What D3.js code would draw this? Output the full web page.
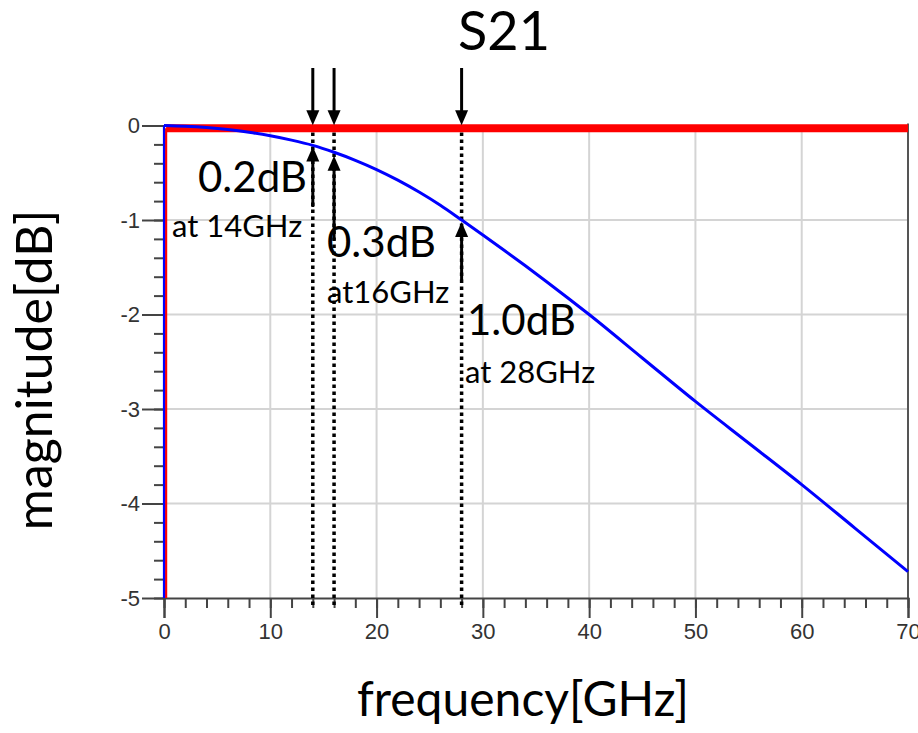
<!DOCTYPE html>
<html>
<head>
<meta charset="utf-8">
<script src="https://cdn.jsdelivr.net/npm/d3@7"></script>
<style>
  html, body { margin: 0; padding: 0; background: #fff; }
  svg { display: block; }
</style>
</head>
<body>
<svg id="chart" width="918" height="733"></svg>
<script>
// S21 insertion loss of the channel, 0–70 GHz
const freqGHz = [0, 2, 4, 6, 8, 10, 12, 14, 16, 18, 20, 22, 24, 26, 28, 30, 32, 34, 36, 38, 40, 45, 50, 55, 60, 65, 70];
const s21dB   = [0, -0.008, -0.022, -0.043, -0.072, -0.109, -0.155, -0.21, -0.283, -0.368, -0.466, -0.578, -0.704, -0.844, -1.0, -1.158, -1.32, -1.485, -1.653, -1.825, -2.0, -2.46, -2.92, -3.36, -3.8, -4.26, -4.72];

// reference trace (flat at 0 dB)
const refFreq = [0.2, 70];
const refdB   = [-0.03, -0.03];

// marked points
const markFreq = [14, 16, 28];
const markLoss = [0.2, 0.3, 1.0];
const markText = ["0.2dB", "0.3dB", "1.0dB"];
const markSub  = ["at 14GHz", "at16GHz", "at 28GHz"];

// axis ticks
const xTicks = [0, 10, 20, 30, 40, 50, 60, 70];
const yTicks = [0, -1, -2, -3, -4, -5];

const svg = d3.select("#chart");
const x = d3.scaleLinear().domain([0, 70]).range([164, 908]);
const y = d3.scaleLinear().domain([-5, 0]).range([598, 125.5]);

const xMinor = d3.range(0, 70.001, 2);
const yMinor = d3.range(-5, 0.001, 0.2).map(v => +v.toFixed(2));

// grid
const grid = svg.append("g");
grid.selectAll(".gx").data(xTicks.filter(t => t > 0 && t < 70)).join("line")
  .attr("x1", d => x(d)).attr("x2", d => x(d))
  .attr("y1", y(0)).attr("y2", y(-5))
  .attr("stroke", "#d4d4d4").attr("stroke-width", 2);
grid.selectAll(".gy").data(yTicks.filter(t => t < 0 && t > -5)).join("line")
  .attr("x1", x(0)).attr("x2", x(70))
  .attr("y1", d => y(d)).attr("y2", d => y(d))
  .attr("stroke", "#d4d4d4").attr("stroke-width", 2);

// right frame edge
svg.append("line")
  .attr("x1", x(70)).attr("x2", x(70)).attr("y1", y(0) - 2).attr("y2", y(-5))
  .attr("stroke", "#555").attr("stroke-width", 2);

const tickFont = "'Liberation Sans', Arial, sans-serif";

// x axis: minor then major ticks
const xMinorAxis = svg.append("g").attr("transform", `translate(0,${y(-5)})`)
  .call(d3.axisBottom(x).tickValues(xMinor).tickSize(10).tickFormat(""));
const xAxis = svg.append("g").attr("transform", `translate(0,${y(-5)})`)
  .call(d3.axisBottom(x).tickValues(xTicks).tickSize(20).tickPadding(5).tickFormat(d3.format("d")));

// y axis: minor then major ticks
const yMinorAxis = svg.append("g").attr("transform", `translate(${x(0)},0)`)
  .call(d3.axisLeft(y).tickValues(yMinor).tickSize(10).tickFormat(""));
const yAxis = svg.append("g").attr("transform", `translate(${x(0)},0)`)
  .call(d3.axisLeft(y).tickValues(yTicks).tickSize(22).tickPadding(2).tickFormat(d => d === 0 ? "0" : "-" + Math.abs(d)));

[xMinorAxis, xAxis, yMinorAxis, yAxis].forEach(g => {
  g.selectAll(".tick line").attr("stroke", "#444").attr("stroke-width", 2);
  g.selectAll(".domain").attr("stroke", "#444").attr("stroke-width", 2);
  g.selectAll("text").attr("fill", "#333").style("font-family", tickFont).style("font-size", "22px");
});
yMinorAxis.select(".domain").remove();
yAxis.select(".domain").remove();
xMinorAxis.select(".domain").remove();

// dotted guides at the marked frequencies
svg.selectAll(".guide").data(markFreq).join("line")
  .attr("x1", d => x(d)).attr("x2", d => x(d))
  .attr("y1", y(0)).attr("y2", y(-5) + 10)
  .attr("stroke", "#000").attr("stroke-width", 3.5)
  .attr("stroke-dasharray", "3.5,3.5");

// reference trace
const refPts = refFreq.map((f, i) => [f, refdB[i]]);
svg.append("line")
  .attr("x1", x(refFreq[0])).attr("x2", x(refFreq[0]))
  .attr("y1", y(-5)).attr("y2", y(refdB[0]))
  .attr("stroke", "#ff0000").attr("stroke-width", 2.2);
svg.append("path")
  .datum(refPts)
  .attr("fill", "none").attr("stroke", "#ff0000").attr("stroke-width", 8)
  .attr("d", d3.line().x(d => x(d[0])).y(d => y(d[1])));

// S21 trace, with its drop at DC
const s21Pts = freqGHz.map((f, i) => [f, s21dB[i]]);
svg.append("line")
  .attr("x1", x(freqGHz[0])).attr("x2", x(freqGHz[0]))
  .attr("y1", y(-5)).attr("y2", y(s21dB[0]))
  .attr("stroke", "#0000ff").attr("stroke-width", 2.2);
svg.append("path")
  .datum(s21Pts)
  .attr("fill", "none").attr("stroke", "#0000ff").attr("stroke-width", 3)
  .attr("d", d3.line().curve(d3.curveMonotoneX).x(d => x(d[0])).y(d => y(d[1])));

// arrows
function arrow(xp, yFrom, yTo) {
  const dir = yTo > yFrom ? 1 : -1;
  const headLen = 15, headHalf = 6.5;
  const g = svg.append("g");
  g.append("line")
    .attr("x1", xp).attr("x2", xp)
    .attr("y1", yFrom).attr("y2", yTo - dir * headLen + dir * 2)
    .attr("stroke", "#000").attr("stroke-width", 3);
  g.append("path")
    .attr("d", `M${xp},${yTo} L${xp - headHalf},${yTo - dir * headLen} L${xp + headHalf},${yTo - dir * headLen} Z`)
    .attr("fill", "#000");
}
const upTail = [207, 240, 280];
markFreq.forEach((f, i) => {
  arrow(x(f), 68, y(refdB[0]) - 3);
  arrow(x(f), upTail[i], y(-markLoss[i]) + 2);
});

const labelFont = "Lato, 'Open Sans', sans-serif";

// annotation text
const bigPos = [[198, 192], [327, 257], [467, 335]];
const subPos = [[172, 237], [327, 303], [465, 383]];
markText.forEach((t, i) => {
  svg.append("text").attr("x", bigPos[i][0]).attr("y", bigPos[i][1])
    .style("font-family", labelFont).style("font-size", "42px").attr("fill", "#000").text(t);
  svg.append("text").attr("x", subPos[i][0]).attr("y", subPos[i][1])
    .style("font-family", labelFont).style("font-size", "31px").attr("fill", "#000").text(markSub[i]);
});

// title and axis titles
svg.append("text").attr("x", 504).attr("y", 50).attr("text-anchor", "middle")
  .style("font-family", labelFont).style("font-size", "54px").attr("fill", "#000").text("S21");
svg.append("text").attr("x", 523).attr("y", 716).attr("text-anchor", "middle")
  .style("font-family", labelFont).style("font-size", "48px").attr("fill", "#000").text("frequency[GHz]");
svg.append("text").attr("transform", "translate(52,370) rotate(-90)").attr("text-anchor", "middle")
  .style("font-family", labelFont).style("font-size", "50px").attr("fill", "#000").text("magnitude[dB]");
</script>
</body>
</html>
